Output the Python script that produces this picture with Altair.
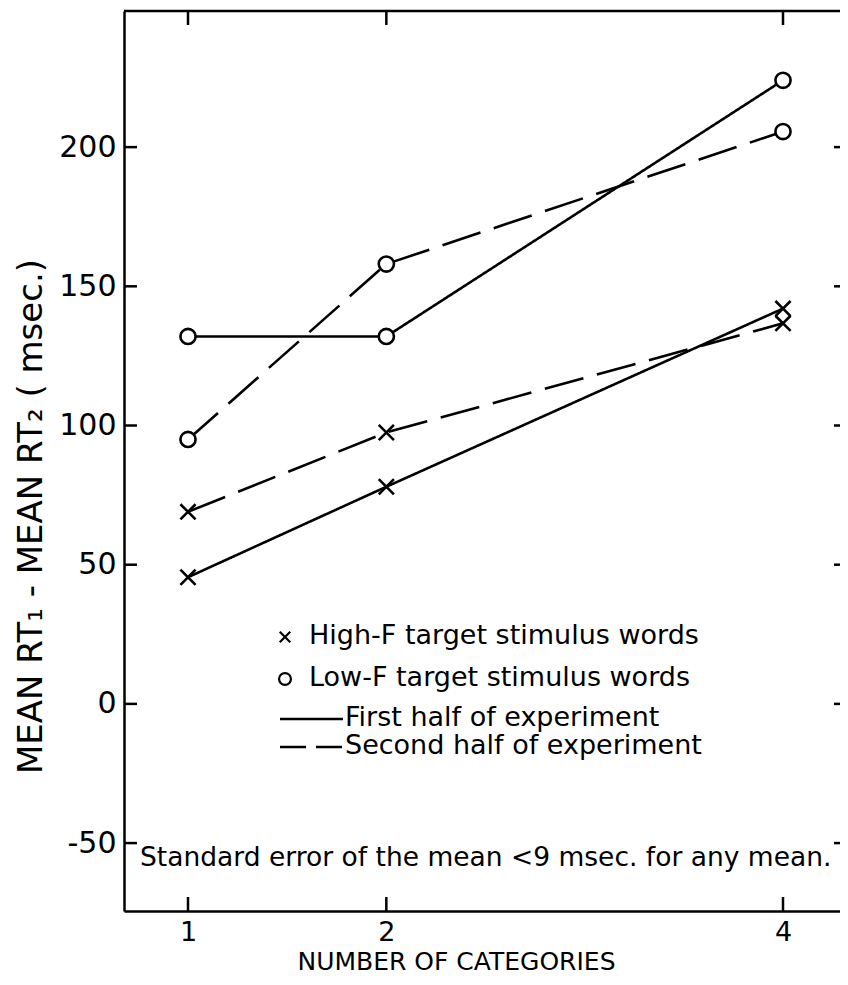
import altair as alt
import pandas as pd

# ---- data ----
categories = [1, 2, 4]
high_f_first = [45.5, 78, 142]
high_f_second = [69, 97.5, 136.7]
low_f_first = [132, 132, 224]
low_f_second = [95, 158, 205.6]

y_ticks = [200, 150, 100, 50, 0, -50]
x_ticks = [1, 2, 4]

legend_labels = ["High-F target stimulus words", "Low-F target stimulus words",
                 "First half of experiment", "Second half of experiment"]
note = "Standard error of the mean <9 msec. for any mean."

FONT = "DejaVu Sans"
W, H = 716, 900
X_PATH = "M-1,-1L1,1M1,-1L-1,1"

rows = []
for stim, half, vals in [("High-F", "First", high_f_first), ("High-F", "Second", high_f_second),
                         ("Low-F", "First", low_f_first), ("Low-F", "Second", low_f_second)]:
    for c, v in zip(categories, vals):
        rows.append({"cat": c, "val": v, "stim": stim, "half": half, "series": stim + half})
df = pd.DataFrame(rows)

xscale = alt.Scale(domain=[0.6773, 4.2874], nice=False, zero=False)
yscale = alt.Scale(domain=[-74.4, 248.9], nice=False, zero=False)

base = alt.Chart(df)

lines = base.mark_line(color="black", strokeWidth=2.6).encode(
    x=alt.X("cat:Q", scale=xscale,
            axis=alt.Axis(values=x_ticks, format="d", ticks=False, grid=False, domain=True,
                          domainColor="black", domainWidth=2.5, labelFont=FONT, labelFontSize=27,
                          labelColor="black", labelPadding=8, title="NUMBER OF CATEGORIES",
                          titleFont=FONT, titleFontSize=25, titleFontWeight="normal",
                          titleColor="black", titlePadding=4, titleX=332, titleAlign="center")),
    y=alt.Y("val:Q", scale=yscale,
            axis=alt.Axis(values=y_ticks, ticks=False, grid=False, domain=True, domainColor="black",
                          domainWidth=2.5, labelFont=FONT, labelFontSize=30, labelColor="black",
                          labelExpr="datum.value < 0 ? '-' + abs(datum.value) : '' + datum.value",
                          labelPadding=8, title="MEAN RT₁ - MEAN RT₂  ( msec.)", titleFont=FONT,
                          titleFontSize=34, titleFontWeight="normal", titleColor="black",
                          titleX=-76, titleY=505, titleAlign="center")),
    detail="series:N",
    strokeDash=alt.StrokeDash("half:N", scale=alt.Scale(domain=["First", "Second"],
                                                        range=[[1, 0], [40, 14]]), legend=None),
)

pts_x = alt.Chart(df[df.stim == "High-F"]).mark_point(
    shape=X_PATH, size=230, stroke="black", strokeWidth=2.6, opacity=1, filled=False
).encode(x=alt.X("cat:Q", scale=xscale), y=alt.Y("val:Q", scale=yscale))

pts_o = alt.Chart(df[df.stim == "Low-F"]).mark_point(
    shape="circle", size=230, stroke="black", fill="white", strokeWidth=2.6, opacity=1, filled=True
).encode(x=alt.X("cat:Q", scale=xscale), y=alt.Y("val:Q", scale=yscale))

ydf = pd.DataFrame({"t": y_ticks})
xdf = pd.DataFrame({"t": x_ticks})
left_ticks = alt.Chart(ydf).mark_rule(color="black", strokeWidth=2.5).encode(
    y=alt.Y("t:Q", scale=yscale), x=alt.value(0), x2=alt.value(13))
right_ticks = alt.Chart(ydf).mark_rule(color="black", strokeWidth=2.5).encode(
    y=alt.Y("t:Q", scale=yscale), x=alt.value(W - 6), x2=alt.value(W))
bottom_ticks = alt.Chart(xdf).mark_rule(color="black", strokeWidth=2.5).encode(
    x=alt.X("t:Q", scale=xscale), y=alt.value(H), y2=alt.value(H - 14))
top_ticks = alt.Chart(xdf).mark_rule(color="black", strokeWidth=2.5).encode(
    x=alt.X("t:Q", scale=xscale), y=alt.value(0), y2=alt.value(14))
top_border = alt.Chart(xdf.head(1)).mark_rule(color="black", strokeWidth=2.5).encode(
    x=alt.value(0), x2=alt.value(W), y=alt.value(0))

# legend (custom, drawn inside the plot)
leg_df = pd.DataFrame({"label": legend_labels, "row": [0, 1, 2, 3]})
leg_text = []
for i, (lab, lx, ly) in enumerate(zip(legend_labels, [185, 185, 221, 221], [625, 667, 707, 735])):
    leg_text.append(alt.Chart(leg_df.iloc[[i]]).mark_text(
        align="left", baseline="middle", font=FONT, fontSize=27, color="black"
    ).encode(text="label:N", x=alt.value(lx), y=alt.value(ly)))

leg_x = alt.Chart(leg_df.iloc[[0]]).mark_point(
    shape=X_PATH, size=110, stroke="black", strokeWidth=2.2, opacity=1, filled=False
).encode(x=alt.value(161), y=alt.value(626))
leg_o = alt.Chart(leg_df.iloc[[1]]).mark_point(
    shape="circle", size=140, stroke="black", strokeWidth=2.2, opacity=1, filled=False
).encode(x=alt.value(161), y=alt.value(668))
leg_solid = alt.Chart(leg_df.iloc[[2]]).mark_rule(color="black", strokeWidth=2.5).encode(
    x=alt.value(156), x2=alt.value(219), y=alt.value(708))
leg_dash = alt.Chart(leg_df.iloc[[3]]).mark_rule(color="black", strokeWidth=2.5, strokeDash=[26, 10]).encode(
    x=alt.value(156), x2=alt.value(219), y=alt.value(736))

note_df = pd.DataFrame({"t": [note]})
note_text = alt.Chart(note_df).mark_text(
    align="left", baseline="middle", font=FONT, fontSize=26.5, color="black"
).encode(text="t:N", x=alt.value(16), y=alt.value(847))

chart = alt.layer(
    lines, pts_x, pts_o, left_ticks, right_ticks, bottom_ticks, top_ticks, top_border,
    leg_x, leg_o, leg_solid, leg_dash, note_text, *leg_text
).properties(
    width=W, height=H, autosize=alt.AutoSizeParams(type="none"),
    padding={"left": 116, "top": 3, "right": 0, "bottom": 66},
).configure_view(stroke=None).configure(background="white")

chart.save("out.html", embed_options={"renderer": "svg", "actions": False})
